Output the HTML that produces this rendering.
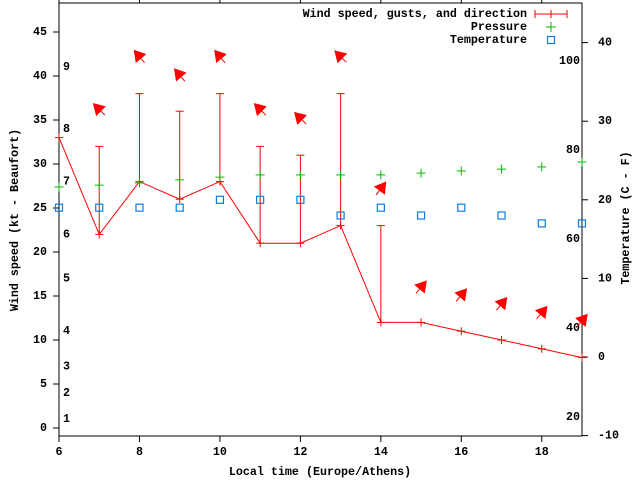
<!DOCTYPE html>
<html><head><meta charset="utf-8"><style>
body{margin:0;background:#fff}
svg text{font-family:"Liberation Mono",monospace;font-weight:bold;font-size:11.7px;fill:#000}
</style></head><body>
<svg id="c" width="640" height="480" viewBox="0 0 640 480" xmlns="http://www.w3.org/2000/svg"></svg>
<script>
const hours=[6,7,8,9,10,11,12,13,14,15,16,17,18,19];
const windSpeed=[33,22,28,26,28,21,21,23,12,12,11,10,9,8];
const gusts=[null,32,38,36,38,32,31,38,23,null,null,null,null,null];
const arrowY=[null,36.2,42.2,40.1,42.2,36.2,35.2,42.2,27.2,16.0,15.1,14.1,13.1,12.2];
const arrowDir=[null,315,320,320,320,315,315,315,37,40,40,40,40,40];
const pressure=[71.7,72.1,72.6,73.3,73.9,74.4,74.4,74.4,74.4,74.8,75.3,75.7,76.2,77.3];
const temperature=[19,19,19,19,20,20,20,18,19,18,19,18,17,17];
const xTicks=[6,8,10,12,14,16,18];
const yTicks=[0,5,10,15,20,25,30,35,40,45];
const y2Ticks=[-10,0,10,20,30,40];
const pTicks=[20,40,60,80,100];
const beaufort=[[1,1],[2,4],[3,7],[4,11],[5,17],[6,22],[7,28],[8,34],[9,41]];

const L=59,R=582,T=3,B=436;
const X=h=>L+(h-6)*(R-L)/13;
const Y=v=>428-v*8.8;
const Y2=t=>357-t*7.86;
const YP=p=>61+(100-p)*4.45;
const svg=document.getElementById('c');
const NS='http://www.w3.org/2000/svg';
function mk(tag,attrs,parent){const e=document.createElementNS(NS,tag);for(const k in attrs)e.setAttribute(k,attrs[k]);(parent||svg).appendChild(e);return e;}
function txt(x,y,s,anchor,name,parent){const t=mk('text',{x:x,y:y,'text-anchor':anchor||'start','dominant-baseline':'central'},parent);t.textContent=s;


return t;}

const fr=mk('rect',{x:L,y:T,width:R-L,height:B-T,fill:'none',stroke:'#000','stroke-width':1});



const ax=mk('g',{});


xTicks.forEach(h=>{
  mk('line',{x1:X(h),x2:X(h),y1:B,y2:B+6,stroke:'#000'},ax);
  mk('line',{x1:X(h),x2:X(h),y1:T,y2:T-6,stroke:'#000'},ax);
  txt(X(h),452,String(h),'middle','x-tick-label',ax);
});
yTicks.forEach(v=>{
  mk('line',{x1:L-6,x2:L,y1:Y(v),y2:Y(v),stroke:'#000'},ax);
  txt(47,Y(v),String(v),'end','y-tick-label',ax);
});
y2Ticks.forEach(t=>{
  mk('line',{x1:R,x2:R+6,y1:Y2(t),y2:Y2(t),stroke:'#000'},ax);
  txt(598,Y2(t),String(t),'start','y2-tick-label',ax);
});
pTicks.forEach(p=>{txt(580,YP(p),String(p),'end','pressure-tick-label',ax);});
beaufort.forEach(b=>{txt(63,Y(b[1]),String(b[0]),'start','beaufort-label',ax);});

txt(320,472,'Local time (Europe/Athens)','middle','x-axis-title');
const yl=txt(0,0,'Wind speed (kt - Beaufort)','middle','y-axis-title');
yl.setAttribute('transform','translate(15,220) rotate(-90)');
const y2l=txt(0,0,'Temperature (C - F)','middle','y2-axis-title');
y2l.setAttribute('transform','translate(626,218) rotate(-90)');

const red='#f00';
const wl=mk('polyline',{points:hours.map((h,i)=>X(h)+','+Y(windSpeed[i])).join(' '),fill:'none',stroke:red,'stroke-width':1});


hours.forEach((h,i)=>{
  const g=mk('g',{stroke:red,'stroke-width':1});
  
  
  const x=X(h),y=Y(windSpeed[i]);
  mk('line',{x1:x-4,x2:x+4,y1:y,y2:y},g);
  mk('line',{x1:x,x2:x,y1:y-4,y2:y+4},g);
  if(gusts[i]!==null){
    const gy=Y(gusts[i]);
    mk('line',{x1:x,x2:x,y1:y,y2:gy},g);
    mk('line',{x1:x-4,x2:x+4,y1:gy,y2:gy},g);
  }
  if(arrowY[i]!==null){
    const a=arrowDir[i]*Math.PI/180,cx=x,cy=Y(arrowY[i]);
    const dx=Math.sin(a),dy=-Math.cos(a),len=16;
    const hx=cx+dx*len/2,hy=cy+dy*len/2,tx=cx-dx*len/2,ty=cy-dy*len/2;
    const ar=mk('g',{});
    
    
    mk('line',{x1:tx,y1:ty,x2:hx,y2:hy,stroke:red},ar);
    const px=-dy,py=dx,hl=10,hw=6;
    const bx=hx-dx*hl,by=hy-dy*hl;
    mk('polygon',{points:`${hx},${hy} ${bx+px*hw},${by+py*hw} ${bx-px*hw},${by-py*hw}`,fill:red,stroke:red},ar);
  }
});
hours.forEach((h,i)=>{
  const g=mk('g',{stroke:'#0b0','stroke-width':1});
  
  
  const x=X(h),y=YP(pressure[i]);
  mk('line',{x1:x-4.5,x2:x+4.5,y1:y,y2:y},g);
  mk('line',{x1:x,x2:x,y1:y-4.5,y2:y+4.5},g);
});
hours.forEach((h,i)=>{
  const r=mk('rect',{x:X(h)-3.5,y:Y2(temperature[i])-3.5,width:7,height:7,fill:'none',stroke:'#0a7ee6','stroke-width':1.2});
  
  
});
const lg=mk('g',{});


txt(527,14,'Wind speed, gusts, and direction','end','legend-wind-label',lg);
txt(527,27,'Pressure','end','legend-pressure-label',lg);
txt(527,40,'Temperature','end','legend-temperature-label',lg);
mk('line',{x1:535,x2:567,y1:14,y2:14,stroke:red},lg);
mk('line',{x1:535,x2:535,y1:10,y2:18,stroke:red},lg);
mk('line',{x1:567,x2:567,y1:10,y2:18,stroke:red},lg);
mk('line',{x1:551,x2:551,y1:10,y2:18,stroke:red},lg);
mk('line',{x1:546,x2:556,y1:27,y2:27,stroke:'#0b0'},lg);
mk('line',{x1:551,x2:551,y1:22,y2:32,stroke:'#0b0'},lg);
mk('rect',{x:547.5,y:36.5,width:7,height:7,fill:'none',stroke:'#0a7ee6','stroke-width':1.2},lg);
</script>
</body></html>
